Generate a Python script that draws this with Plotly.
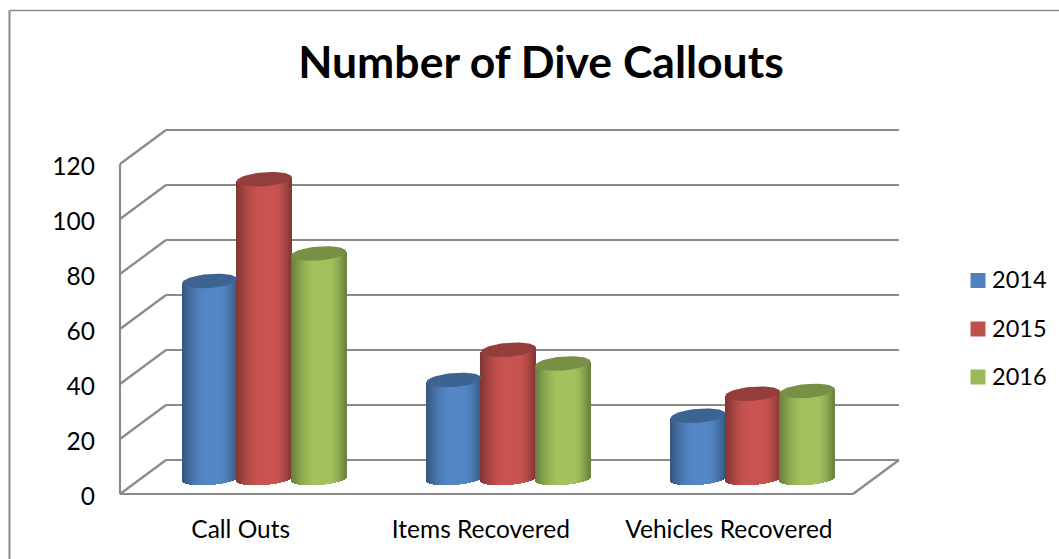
import math
import plotly.graph_objects as go

categories = ["Call Outs", "Items Recovered", "Vehicles Recovered"]
years = ["2014", "2015", "2016"]
values_2014 = [72, 36, 23]
values_2015 = [109, 47, 31]
values_2016 = [82, 42, 32]
series_values = [values_2014, values_2015, values_2016]
y_ticks = [0, 20, 40, 60, 80, 100, 120]

W, H = 1059, 559
AX_X, AX_Y = 120, 494       # pixel position of the value/category origin
L, T, B = 100, 100, 505     # plot area edges, leaving room so edge lines are not clipped
PX_Y = 2.75                 # px per value unit
PX_X = 244.33               # px per category
DEPTH_X = 46 / PX_X
DEPTH_Y = 34 / PX_Y
MID_X = 22 / PX_X
MID_Y = 15 / PX_Y
SLOT = 54.5 / PX_X
RAD = 27.5 / PX_X
ELL_B = 7 / PX_Y
BOT_B = 6 / PX_Y
TILT = 2 / PX_Y             # rise of right end of an ellipse above its centre

base_colors = [(79, 129, 189), (192, 80, 77), (155, 187, 89)]
GRID = "#8a8a8a"


def rgb(c, f):
    return "rgb(%d,%d,%d)" % tuple(min(255, round(v * f)) for v in c)


def shade(t):
    if t < 0.45:
        return 0.66 + (1.04 - 0.66) * math.sin(t / 0.45 * math.pi / 2)
    if t < 0.68:
        return 1.04
    return 0.68 + (1.04 - 0.68) * math.cos((t - 0.68) / 0.32 * math.pi / 2)


fig = go.Figure()
N = 55
for s, (vals, col) in enumerate(zip(series_values, base_colors)):
    xs, bases, heights, colors = [], [], [], []
    ex, ey = [], []
    for c, v in enumerate(vals):
        cx = c + 0.5 + MID_X + (s - 1) * SLOT
        for i in range(N):
            t = (i + 0.5) / N
            u = 2 * t - 1
            bottom = MID_Y + TILT * u - BOT_B * math.sqrt(1 - u * u)
            xs.append(cx + RAD * u)
            bases.append(bottom)
            heights.append(v + MID_Y + TILT * u - bottom)
            colors.append(rgb(col, shade(t)))
        for k in range(61):
            a = 2 * math.pi * k / 60
            ex.append(cx + RAD * math.cos(a))
            ey.append(v + MID_Y + TILT * math.cos(a) + ELL_B * math.sin(a))
        ex.append(None)
        ey.append(None)
    fig.add_trace(go.Bar(x=xs, y=heights, base=bases, width=1.02 / PX_X,
                         marker=dict(color=colors, line=dict(width=0)),
                         showlegend=False, hoverinfo="skip"))
    fig.add_trace(go.Scatter(x=ex, y=ey, mode="lines", fill="toself",
                             fillcolor=rgb(col, 0.77), line=dict(width=0),
                             showlegend=False, hoverinfo="skip"))

# legend keys and labels, drawn on the same axes at the right of the walls
key_x = (978 - AX_X) / PX_X
text_x = (992 - AX_X) / PX_X
key_y = [(AX_Y - p) / PX_Y for p in (280.5, 329, 377)]
for yr, col, ky in zip(years, base_colors, key_y):
    fig.add_trace(go.Scatter(x=[key_x], y=[ky], mode="markers",
                             marker=dict(symbol="square", size=15, color=rgb(col, 1)),
                             cliponaxis=False, showlegend=False, hoverinfo="skip"))
    fig.add_trace(go.Scatter(x=[text_x], y=[ky - 2 / PX_Y], mode="text", text=[yr],
                             textposition="middle right",
                             textfont=dict(family="Lato", size=23.5, color="#000000"),
                             cliponaxis=False, showlegend=False, hoverinfo="skip"))

xmin = (L - AX_X) / PX_X
xmax = (W - AX_X) / PX_X
ymin = (AX_Y - B) / PX_Y
ymax = (AX_Y - T) / PX_Y
wall_end = 3 + DEPTH_X
line = dict(color=GRID, width=2.2)
common = dict(type="line", layer="below", xref="x", yref="y", line=line)
shapes = []
for v in y_ticks:
    shapes.append(dict(common, x0=DEPTH_X, x1=wall_end, y0=v + DEPTH_Y, y1=v + DEPTH_Y))
    shapes.append(dict(common, x0=0, x1=DEPTH_X, y0=v, y1=v + DEPTH_Y))
shapes.append(dict(common, x0=0, x1=0, y0=0, y1=120))
shapes.append(dict(common, x0=0, x1=3, y0=0, y1=0))
shapes.append(dict(common, x0=3, x1=wall_end, y0=0, y1=DEPTH_Y))
# chart frame: only its top and left edges are inside the crop
fx0 = (9.5 - L) / (W - L)
fy1 = (B - 10.5) / (B - T)
fy0 = (B - 570) / (B - T)
fig.update_layout(shapes=shapes + [
    dict(type="line", layer="below", xref="paper", yref="paper", x0=fx0, x1=fx0, y0=fy0, y1=fy1,
         line=dict(color=GRID, width=2)),
    dict(type="line", layer="below", xref="paper", yref="paper", x0=fx0, x1=1, y0=fy1, y1=fy1,
         line=dict(color=GRID, width=1.5)),
])

fig.update_layout(
    width=W, height=H, autosize=False, barmode="overlay", bargap=0,
    paper_bgcolor="white", plot_bgcolor="rgba(0,0,0,0)", showlegend=False,
    margin=dict(l=L, r=0, t=T, b=H - B, pad=0),
    title=dict(text="<b>Number of Dive Callouts</b>", x=541 / W, xref="container", xanchor="center",
               y=1 - 62 / H, yref="container", yanchor="middle",
               font=dict(family="Lato", size=44.5, color="#000000")),
    font=dict(family="Lato", color="#000000"),
    xaxis=dict(range=[xmin, xmax], tickmode="array", tickvals=[0.494, 1.477, 2.492], ticktext=categories,
               showgrid=False, zeroline=False, showline=False, ticks="", ticklabelstandoff=7,
               tickfont=dict(family="Lato", size=24.5), fixedrange=True),
    yaxis=dict(range=[ymin, ymax], tickmode="array", tickvals=y_ticks, showgrid=False, zeroline=False,
               showline=False, ticks="", ticklabelstandoff=4, ticklabelshift=2,
               tickfont=dict(family="Lato", size=24.5), fixedrange=True),
)

fig.write_html("out.html", config=dict(displayModeBar=False),
               post_script="document.body.style.margin='0';document.body.style.overflow='hidden';")
